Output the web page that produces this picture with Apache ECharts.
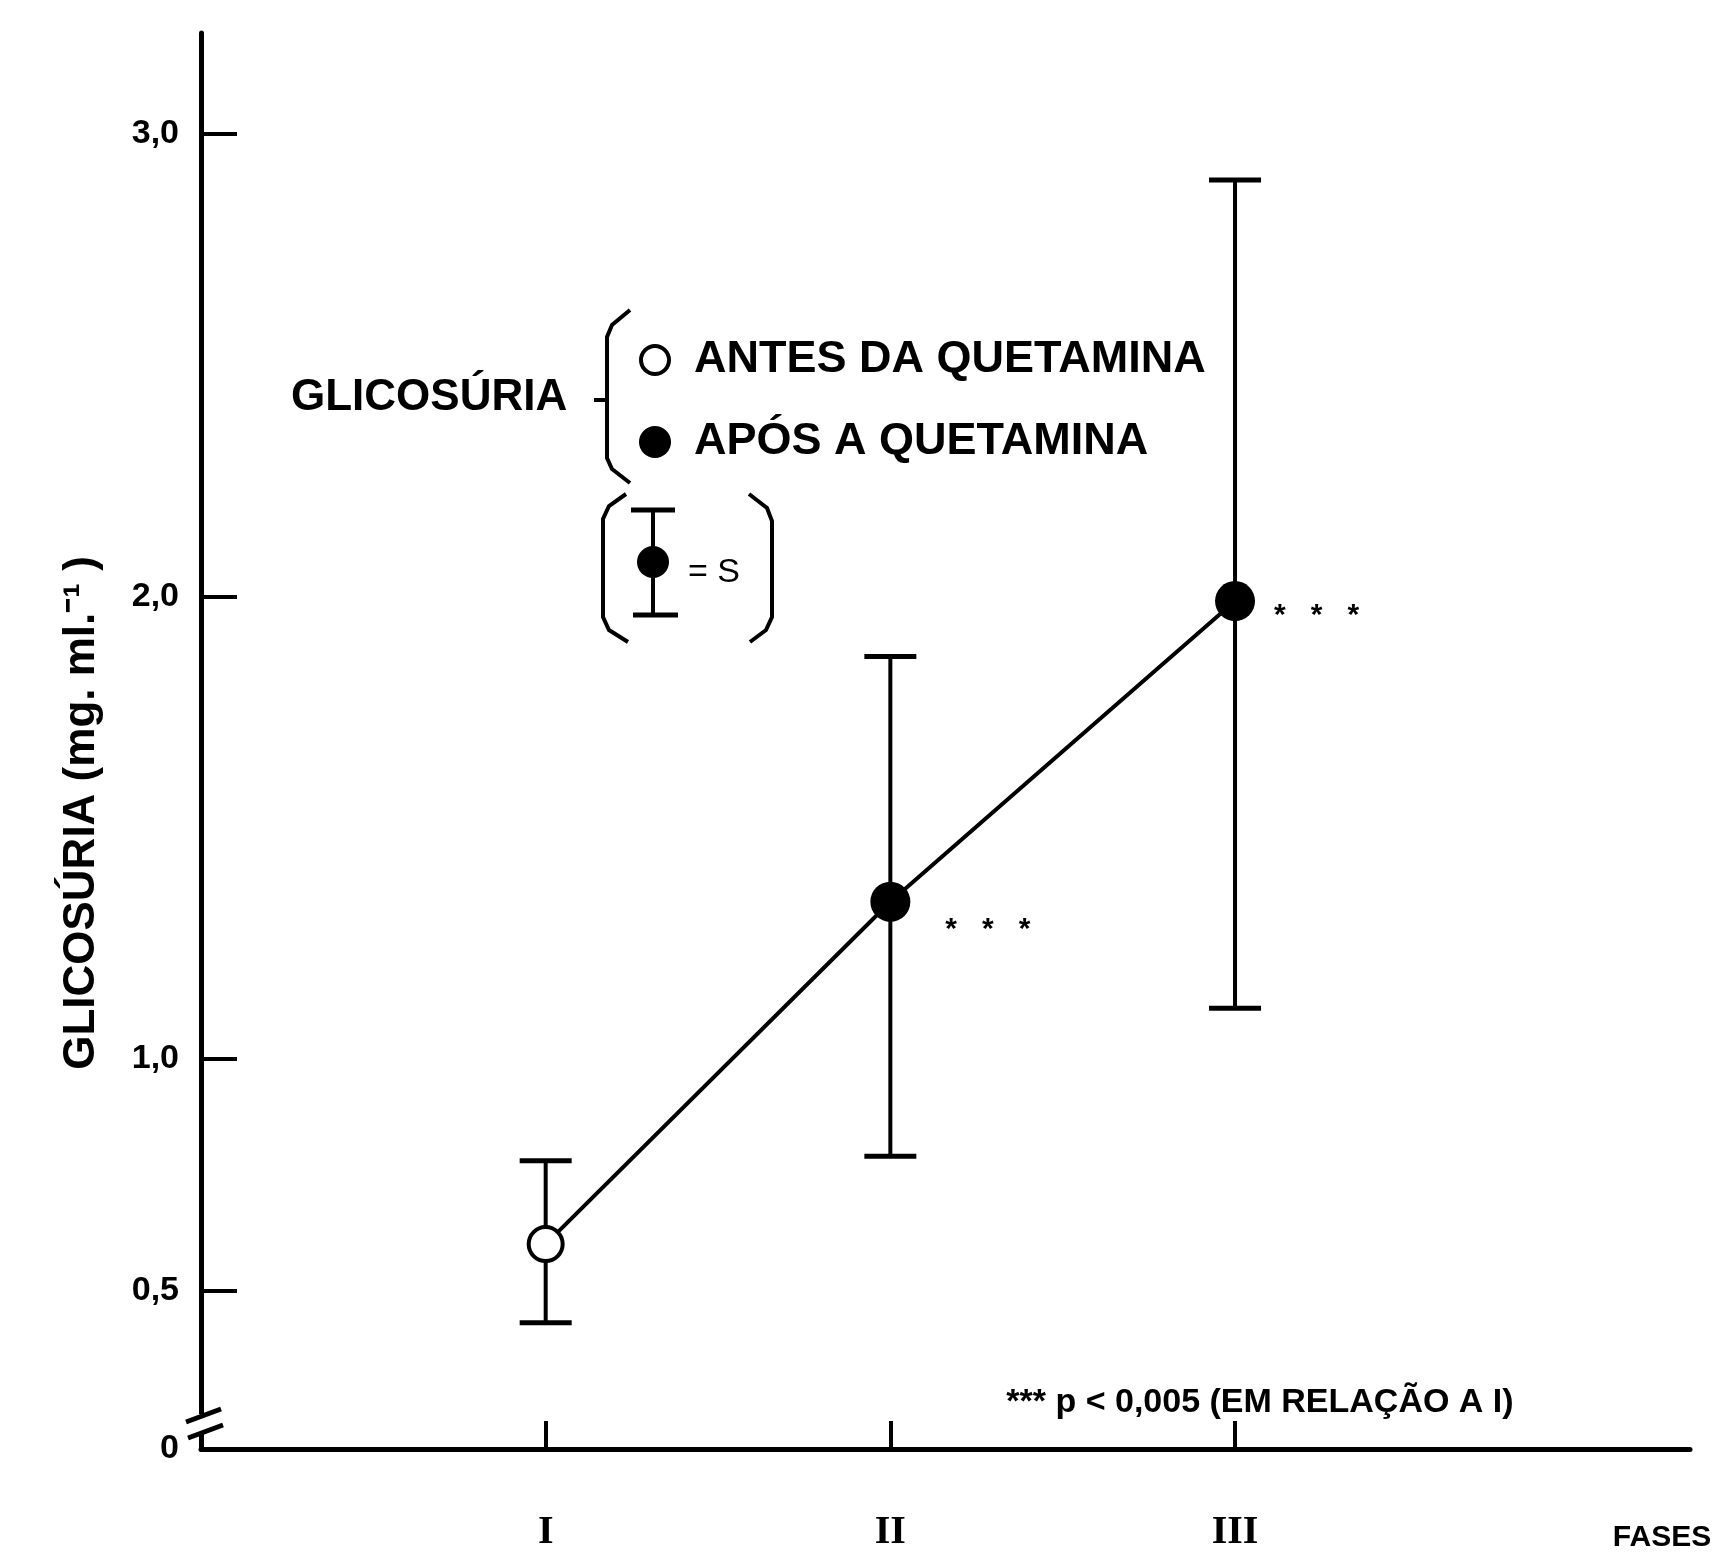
<!DOCTYPE html>
<html><head><meta charset="utf-8">
<script src="https://cdn.jsdelivr.net/npm/echarts@6/dist/echarts.min.js"></script>
<style>html,body{margin:0;padding:0;background:#fff}#c{width:1721px;height:1564px}</style>
</head><body><div id="c"></div>
<script>
// ---- data ----
const phases = ['I', 'II', 'III'];
const phasePos = [1, 2, 3];
const meanValues = [0.60, 1.34, 1.99];
const upperValues = [0.78, 1.87, 2.90];
const lowerValues = [0.43, 0.79, 1.11];
const beforeKetamine = [true, false, false];
const significance = ['', '*   *   *', '*   *   *'];
const yTickValues = [0.5, 1.0, 2.0, 3.0];
const yTickLabels = ['0,5', '1,0', '2,0', '3,0'];
const Y_MIN = 0.157, Y_MAX = 3.218;
const X_MIN = 0, X_MAX = 4.32;

const FONT = '"Liberation Sans", Arial, sans-serif';
const chart = echarts.init(document.getElementById('c'), null, {renderer: 'canvas'});

const labelOffsets = [[0, 0], [0, 28], [0, 15]];
const labelDist = [0, 35, 19];

const option = {
  backgroundColor: '#fff',
  animation: false,
  grid: {left: 201, right: 31, top: 33, bottom: 115, containLabel: false},
  xAxis: {
    type: 'value', min: X_MIN, max: X_MAX,
    axisLine: {onZero: false, lineStyle: {color: '#000', width: 5}},
    axisTick: {show: true, inside: true, length: 28, customValues: phasePos, lineStyle: {color: '#000', width: 4}},
    axisLabel: {customValues: phasePos, formatter: v => phases[Math.round(v) - 1] || '', margin: 64,
      color: '#000', fontSize: 40, fontWeight: 'bold', fontFamily: '"Liberation Serif", serif'},
    splitLine: {show: false}
  },
  yAxis: {
    type: 'value', min: Y_MIN, max: Y_MAX,
    axisLine: {show: true, onZero: false, lineStyle: {color: '#000', width: 5}},
    axisTick: {show: true, inside: true, length: 36, customValues: yTickValues, lineStyle: {color: '#000', width: 4}},
    axisLabel: {
      customValues: [Y_MIN].concat(yTickValues), showMinLabel: true, showMaxLabel: true,
      formatter: v => {
        if (Math.abs(v - Y_MIN) < 1e-6) return '0';
        const i = yTickValues.findIndex(t => Math.abs(t - v) < 1e-6);
        return i >= 0 ? yTickLabels[i] : '';
      },
      margin: 22, color: '#000', fontSize: 34, fontWeight: 'bold', fontFamily: FONT
    },
    splitLine: {show: false}
  },
  series: [
    {
      type: 'custom', z: 2,
      data: phasePos.map((x, i) => [x, lowerValues[i], upperValues[i]]),
      renderItem(params, api) {
        const x = api.value(0);
        const lo = api.coord([x, api.value(1)]);
        const hi = api.coord([x, api.value(2)]);
        const hw = 26;
        return {type: 'group', children: [
          {type: 'line', shape: {x1: lo[0], y1: lo[1], x2: hi[0], y2: hi[1]}, style: {stroke: '#000', lineWidth: 4}},
          {type: 'line', shape: {x1: lo[0] - hw, y1: lo[1], x2: lo[0] + hw, y2: lo[1]}, style: {stroke: '#000', lineWidth: 5}},
          {type: 'line', shape: {x1: hi[0] - hw, y1: hi[1], x2: hi[0] + hw, y2: hi[1]}, style: {stroke: '#000', lineWidth: 5}}
        ]};
      }
    },
    {
      type: 'line', z: 3,
      lineStyle: {color: '#000', width: 4},
      data: phasePos.map((x, i) => ({
        value: [x, meanValues[i]],
        symbol: 'circle',
        symbolSize: beforeKetamine[i] ? 34 : 40,
        itemStyle: {color: beforeKetamine[i] ? '#fff' : '#000', borderColor: '#000', borderWidth: beforeKetamine[i] ? 4 : 0, opacity: 1},
        label: {
          show: !!significance[i], formatter: significance[i], position: 'right',
          distance: labelDist[i], offset: labelOffsets[i],
          color: '#000', fontSize: 30, fontWeight: 'bold', fontFamily: FONT
        }
      }))
    }
  ]
};
chart.setOption(option);

// ---- decorations: legend, axis break, texts ----
const origin = chart.convertToPixel({xAxisIndex: 0, yAxisIndex: 0}, [X_MIN, Y_MIN]);
const ox = origin[0], oy = origin[1];
const bTop = oy - 33, bBot = oy - 17;

function txt(x, y, text, font, align) {
  return {type: 'text', x, y, z: 10, style: {text, font, fill: '#000', align: align || 'left', verticalAlign: 'middle', textAlign: align || 'left', textVerticalAlign: 'middle'}};
}
function pl(points, w) {
  return {type: 'polyline', z: 10, shape: {points}, style: {stroke: '#000', lineWidth: w || 4, fill: null}};
}

const graphic = [
  // axis break
  {type: 'rect', z: 9, shape: {x: ox - 8, y: bTop - 2, width: 16, height: bBot - bTop + 4}, style: {fill: '#fff'}},
  pl([[ox - 15, bTop + 6], [ox + 20, bTop - 7]], 5),
  pl([[ox - 13, bBot + 6], [ox + 22, bBot - 7]], 5),
  // legend
  txt(291, 398, 'GLICOSÚRIA', 'bold 44px ' + FONT),
  pl([[630, 310], [612, 325], [607, 337], [607, 458], [612, 469], [630, 483]], 4),
  pl([[594, 400], [607, 400]], 4),
  {type: 'circle', z: 10, shape: {cx: 655, cy: 360, r: 14}, style: {fill: '#fff', stroke: '#000', lineWidth: 4}},
  txt(694, 360, 'ANTES DA QUETAMINA', 'bold 45px ' + FONT),
  {type: 'circle', z: 10, shape: {cx: 655, cy: 442, r: 16}, style: {fill: '#000'}},
  txt(694, 442, 'APÓS A QUETAMINA', 'bold 45px ' + FONT),
  pl([[626, 494], [609, 506], [603, 519], [603, 617], [609, 630], [628, 642]], 4),
  pl([[749, 494], [767, 508], [772, 521], [772, 617], [766, 630], [750, 642]], 4),
  pl([[653, 510], [653, 615]], 4),
  pl([[631, 510], [675, 510]], 5),
  pl([[633, 615], [678, 615]], 5),
  {type: 'circle', z: 10, shape: {cx: 653, cy: 562, r: 16}, style: {fill: '#000'}},
  txt(688, 573, '= S', '34px ' + FONT),
  // footnote and axis titles
  txt(1260, 1403, '*** p < 0,005 (EM RELAÇÃO A I)', 'bold 34px ' + FONT, 'center'),
  txt(1662, 1538, 'FASES', 'bold 30px ' + FONT, 'center'),
  {type: 'text', x: 82, y: 813, rotation: Math.PI / 2, z: 10,
    style: {text: 'GLICOSÚRIA (mg. ml.⁻¹ )', font: 'bold 44px ' + FONT, fill: '#000', align: 'center', verticalAlign: 'middle', textAlign: 'center', textVerticalAlign: 'middle'}}
];
chart.setOption({graphic});
</script>
</body></html>
